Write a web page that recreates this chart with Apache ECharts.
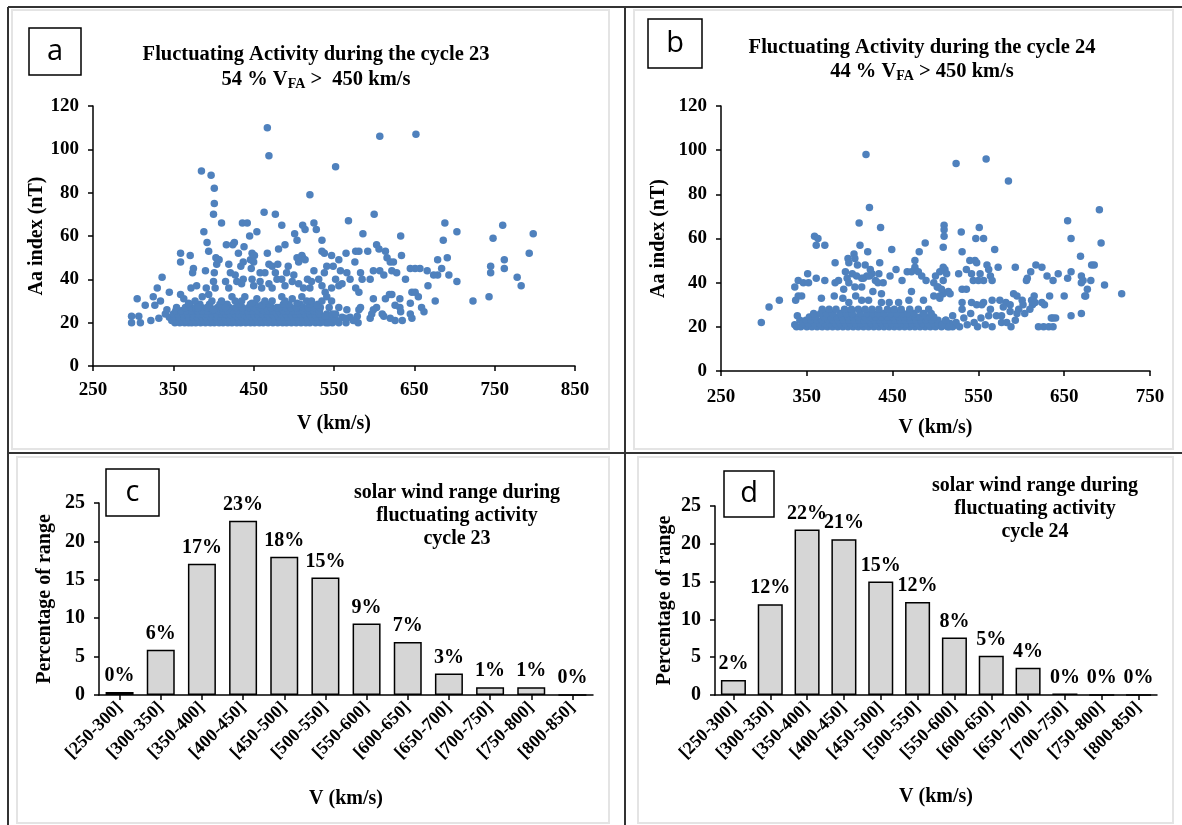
<!DOCTYPE html>
<html><head><meta charset="utf-8">
<script src="https://cdn.jsdelivr.net/npm/echarts@6/dist/echarts.min.js"></script>
<style>html,body{margin:0;padding:0;background:#fff}#c{width:1182px;height:825px}</style>
</head><body><div id="c"></div><script>
// ---------- DATA ----------
// Panel a: cycle 23 scatter [V km/s, Aa nT]
const scatterA_high = [[467,110],[469,97],[552,92],[385,90],[397,88],[401,82],[401,75],[400,70],[607,106],[652,107],[520,79],[463,71],[477,70],[410,66],[436,66],[442,66],[485,65],[511,65],[514,63],[525,66],[528,63],[388,62],[454,62],[445,60],[501,61],[392,57],[416,56],[424,56],[426,57],[438,55],[394,53],[504,58],[535,58],[359,52],[371,51],[359,48],[403,50],[406,49],[431,52],[448,52],[451,51],[467,52],[481,54],[489,56],[510,51],[514,49],[538,52],[547,51],[556,49]];
const scatterA_right = [[600,70],[568,67],[586,61],[633,60],[688,66],[703,62],[686,58],[760,65],[748,59],[798,61],[793,52],[603,56],[606,54],[634,51],[679,49],[691,50],[762,49],[762,45],[745,46],[745,43],[778,41],[783,37],[723,30],[743,32],[703,39],[693,42],[667,37],[676,30],[684,45],[679,42],[674,42],[657,45],[666,44],[651,45],[645,45],[639,40],[607,44],[612,42],[599,44],[595,40],[622,44],[628,43],[616,50],[620,48],[614,53],[624,48],[592,53],[581,53],[577,53],[565,52],[576,48],[566,43],[570,40],[560,38],[583,43],[585,40],[577,36],[581,34],[599,31],[614,31],[622,33],[632,31],[647,34],[651,34],[655,32],[645,29],[632,27],[619,33],[603,27],[599,26],[583,27],[566,26],[659,27],[662,25],[645,24],[647,22],[633,25],[626,28],[610,24],[595,22],[597,24],[581,26],[579,23],[574,21],[564,22],[620,22],[626,21],[635,21],[612,23]];
const scatterA_mid = [[336,41],[330,36],[305,31],[315,28],[325,32],[327,28],[334,30],[345,34],[298,23],[307,23],[298,20],[309,20],[322,21],[332,22],[342,26],[354,27],[359,33],[363,31],[375,45],[374,43],[390,44],[372,36],[379,37],[391,36],[400,39],[401,43],[404,47],[407,49],[419,47],[421,43],[434,46],[437,48],[446,49],[450,48],[447,45],[458,43],[464,43],[469,47],[473,46],[480,47],[493,46],[491,43],[500,42],[506,48],[504,50],[511,50],[517,40],[525,44],[531,40],[535,53],[538,43],[541,46],[549,46],[558,44],[552,40],[556,37],[547,36],[535,37],[539,34],[522,39],[520,36],[506,38],[512,36],[498,39],[489,37],[485,40],[477,43],[479,40],[469,38],[473,36],[458,39],[460,36],[448,40],[450,37],[437,40],[435,38],[427,42],[429,39],[415,39],[419,36],[402,36],[394,33],[398,30],[386,32],[377,30],[381,27],[369,29],[392,27],[400,26],[410,30],[415,27],[423,32],[427,30],[435,30],[439,32],[448,29],[454,31],[460,28],[464,30],[473,30],[479,27],[485,32],[489,30],[498,31],[504,29],[510,32],[516,30],[522,30],[529,28],[535,30],[541,32],[547,30],[556,27],[552,24],[539,23],[543,20]];
const scatterA_low = [
[352,20],[358,20],[364,20],[369,20],[373,20],[378,20],[384,20],[390,20],[396,20],[401,20],[407,20],[412,20],[418,20],[423,20],[429,20],[434,20],[440,20],[446,20],[451,20],[457,20],[462,20],[468,20],[474,20],[480,20],[486,20],[491,20],[497,20],[503,20],[509,20],[515,20],[520,20],[527,20],[533,20],[540,20],[548,20],[556,20],[565,20],[580,20],
[348,21],[355,21],[361,21],[366,21],[372,21],[377,21],[382,21],[388,21],[393,21],[399,21],[405,21],[410,21],[416,21],[421,21],[426,21],[432,21],[438,21],[443,21],[449,21],[455,21],[460,21],[466,21],[471,21],[477,21],[483,21],[489,21],[494,21],[500,21],[506,21],[512,21],[518,21],[524,21],[530,21],[537,21],[545,21],[553,21],
[345,22.5],[351,22.5],[357,22.5],[363,22.5],[369,22.5],[375,22.5],[380,22.5],[386,22.5],[391,22.5],[397,22.5],[403,22.5],[409,22.5],[414,22.5],[420,22.5],[425,22.5],[431,22.5],[436,22.5],[442,22.5],[448,22.5],[453,22.5],[459,22.5],[465,22.5],[470,22.5],[476,22.5],[482,22.5],[488,22.5],[493,22.5],[499,22.5],[505,22.5],[511,22.5],[517,22.5],[523,22.5],[529,22.5],[535,22.5],[544,22.5],[550,22.5],[560,22.5],[570,22.5],
[340,24],[350,24],[356,24],[362,24],[368,24],[374,24],[381,24],[387,24],[392,24],[398,24],[404,24],[410,24],[415,24],[421,24],[427,24],[432,24],[438,24],[444,24],[450,24],[455,24],[461,24],[467,24],[473,24],[479,24],[484,24],[490,24],[496,24],[502,24],[508,24],[514,24],[520,24],[526,24],[532,24],[541,24],[548,24],
[353,25.5],[360,25.5],[367,25.5],[373,25.5],[380,25.5],[386,25.5],[393,25.5],[399,25.5],[406,25.5],[412,25.5],[418,25.5],[424,25.5],[430,25.5],[437,25.5],[443,25.5],[449,25.5],[455,25.5],[462,25.5],[468,25.5],[474,25.5],[481,25.5],[487,25.5],[493,25.5],[499,25.5],[505,25.5],[511,25.5],[518,25.5],[525,25.5],[532,25.5],
[365,27],[372,27],[378,27],[385,27],[396,27],[405,27],[411,27],[420,27],[428,27],[436,27],[444,27],[451,27],[458,27],[466,27],[472,27],[482,27],[490,27],[496,27],[503,27],[512,27],[518,27],[525,27],[533,27],[544,27],
[370,28.5],[383,28.5],[395,28.5],[408,28.5],[417,28.5],[432,28.5],[446,28.5],[452,28.5],[462,28.5],[470,28.5],[487,28.5],[494,28.5],[508,28.5],[520,28.5],[530,28.5]];

// Panel b: cycle 24 scatter [V km/s, Aa nT]
const scatterB_high = [[419,98],[524,94],[559,96],[585,86],[423,74],[691,73],[411,67],[436,65],[654,68],[510,66],[510,64],[510,61],[530,63],[551,65],[547,60],[556,60],[658,60],[693,58],[359,61],[363,60],[361,57],[371,57],[412,57],[421,54],[449,55],[488,58],[481,54],[509,56],[569,55],[531,54],[669,52],[682,48],[685,48]];
const scatterB_mid = [[398,51],[405,53],[406,51],[399,49],[409,48],[383,49],[418,48],[424,46],[435,49],[395,45],[403,44],[408,43],[420,43],[416,42],[426,44],[434,44],[447,43],[454,46],[461,41],[467,45],[472,45],[476,50],[476,47],[480,45],[484,43],[489,41],[500,43],[498,40],[505,45],[503,38],[509,47],[509,35],[351,44],[361,42],[371,41],[383,40],[387,41],[340,41],[336,38],[346,40],[352,40],[397,42],[399,40],[406,38],[414,38],[414,42],[423,43],[430,41],[433,40],[439,40],[393,37],[382,34],[340,34],[344,34],[337,32],[367,33],[392,33],[399,31],[407,34],[414,32],[427,36],[422,32],[437,35],[437,31],[446,31],[457,31],[472,36],[469,32],[486,32],[498,34],[502,38],[505,33],[507,37]];
const scatterB_right = [[540,50],[546,50],[548,49],[536,46],[560,48],[562,46],[573,47],[593,47],[617,48],[624,47],[611,45],[643,44],[630,43],[658,45],[670,43],[672,41],[681,41],[697,39],[717,35],[511,46],[513,44],[527,44],[542,44],[552,44],[556,41],[564,43],[566,41],[544,41],[550,41],[509,41],[606,41],[607,42],[637,41],[654,42],[670,40],[677,37],[675,34],[650,34],[633,34],[615,34],[612,32],[601,32],[602,30],[591,35],[595,34],[582,31],[587,30],[566,32],[575,32],[556,31],[564,28],[542,31],[548,30],[554,30],[531,31],[531,28],[531,37],[536,37],[515,36],[517,35],[505,34],[613,30],[616,31],[624,31],[627,30],[610,28],[604,26],[597,28],[595,26],[587,27],[579,29],[577,25],[571,25],[577,22],[583,22],[588,20],[593,23],[620,20],[626,20],[632,20],[637,20],[635,24],[637,24],[640,24],[658,25],[670,26],[674,34],[508,21],[512,23],[516,20],[520,25],[524,22],[528,20],[533,24],[537,21],[541,26],[545,22],[549,20],[553,24],[558,21],[562,25],[566,20]];
const scatterB_low = [[297,22],[306,29],[318,32],[336,21],[339,25],[342,23],[338,20],
[343,20],[350,20],[356,20],[362,20],[368,20],[374,20],[380,20],[386,20],[392,20],[398,20],[404,20],[410,20],[416,20],[422,20],[428,20],[434,20],[440,20],[446,20],[452,20],[458,20],[464,20],[470,20],[476,20],[482,20],[488,20],[494,20],[500,20],[507,20],[514,20],[520,20],
[346,21.5],[352,21.5],[359,21.5],[365,21.5],[371,21.5],[377,21.5],[383,21.5],[389,21.5],[395,21.5],[401,21.5],[407,21.5],[413,21.5],[419,21.5],[425,21.5],[431,21.5],[437,21.5],[443,21.5],[449,21.5],[455,21.5],[461,21.5],[467,21.5],[473,21.5],[479,21.5],[485,21.5],[491,21.5],[497,21.5],[503,21.5],[510,21.5],[517,21.5],
[349,23],[355,23],[362,23],[368,23],[375,23],[381,23],[387,23],[393,23],[399,23],[405,23],[411,23],[417,23],[423,23],[429,23],[435,23],[441,23],[447,23],[453,23],[459,23],[465,23],[471,23],[477,23],[483,23],[489,23],[496,23],[503,23],[512,23],
[353,24.5],[360,24.5],[370,24.5],[378,24.5],[385,24.5],[391,24.5],[398,24.5],[404,24.5],[410,24.5],[418,24.5],[424,24.5],[430,24.5],[437,24.5],[444,24.5],[450,24.5],[457,24.5],[463,24.5],[470,24.5],[476,24.5],[482,24.5],[490,24.5],[498,24.5],
[358,26],[366,26],[373,26],[380,26],[389,26],[396,26],[403,26],[412,26],[420,26],[427,26],[433,26],[440,26],[448,26],[455,26],[462,26],[468,26],[475,26],[486,26],[495,26],
[368,28],[376,28],[384,28],[394,28],[402,28],[410,28],[418,28],[426,28],[434,28],[444,28],[452,28],[460,28],[470,28],[480,28],[492,28]];

// Panels c, d: histogram of solar wind speed ranges
const ranges = ['[250-300]','[300-350]','[350-400]','[400-450]','[450-500]','[500-550]','[550-600]','[600-650]','[650-700]','[700-750]','[750-800]','[800-850]'];
const pct23 = [0.4,5.9,17.1,22.7,18.0,15.3,9.3,6.9,2.8,1.0,1.0,0];
const pct23Labels = ['0%','6%','17%','23%','18%','15%','9%','7%','3%','1%','1%','0%'];
const pct24 = [2.0,12.0,21.9,20.6,15.0,12.3,7.6,5.2,3.6,0.2,0,0];
const pct24Labels = ['2%','12%','22%','21%','15%','12%','8%','5%','4%','0%','0%','0%'];

// ---------- CHART ----------
const SERIF = '"Liberation Serif","Times New Roman",serif';
const BLUE = '#4F81BD';
const chart = echarts.init(document.getElementById('c'), null, {renderer:'canvas'});

function axisBase(){
  return {
    axisLine:{show:true,onZero:false,lineStyle:{color:'#000',width:1.5}},
    axisTick:{show:true,inside:false,length:5,lineStyle:{color:'#000',width:1.5}},
    splitLine:{show:false},
    nameTextStyle:{fontFamily:SERIF,fontWeight:'bold',fontSize:20,color:'#000'},
    axisLabel:{fontFamily:SERIF,fontWeight:'bold',fontSize:19,color:'#000'}
  };
}
function valX(grid,min,max,interval,gap,margin){
  const a = axisBase();
  return Object.assign(a,{type:'value',gridIndex:grid,min,max,interval,name:'V (km/s)',nameLocation:'middle',nameGap:gap,
    axisLabel:Object.assign(a.axisLabel,{margin})});
}
function valY(grid,min,max,interval,name,gap,fs){
  const a = axisBase();
  a.axisLabel.fontSize = fs; a.axisLabel.margin = 14;
  return Object.assign(a,{type:'value',gridIndex:grid,min,max,interval,name,nameLocation:'middle',nameGap:gap,nameRotate:90});
}
function catX(grid,gap){
  const a = axisBase();
  return Object.assign(a,{type:'category',gridIndex:grid,data:ranges,name:'V (km/s)',nameLocation:'middle',nameGap:gap,
    axisTick:Object.assign(a.axisTick,{alignWithLabel:true}),
    axisLabel:Object.assign(a.axisLabel,{rotate:45,interval:0,fontSize:18,margin:10})});
}
function scat(i,data){
  return {type:'scatter',xAxisIndex:i,yAxisIndex:i,data,symbolSize:7.5,itemStyle:{color:BLUE,opacity:1},silent:true};
}
function bars(i,data,labels){
  return {type:'bar',xAxisIndex:i,yAxisIndex:i,data,barCategoryGap:'32%',silent:true,
    itemStyle:{color:'#d6d6d6',borderColor:'#000',borderWidth:1.5},
    label:{show:true,position:'top',distance:6,formatter:p=>labels[p.dataIndex],
      fontFamily:SERIF,fontWeight:'bold',fontSize:20,color:'#000'}};
}

const g = [];
// frame lines
[[8,7,1182,7],[8,7,8,825],[625,7,625,825],[8,453,1182,453]].forEach(l=>g.push({type:'line',shape:{x1:l[0],y1:l[1],x2:l[2],y2:l[3]},style:{stroke:'#333',lineWidth:2},z:10}));
// light panel borders
[[12,10,597,439],[634,10,539,439],[17,457,592,366],[638,457,535,366]].forEach(r=>g.push({type:'rect',shape:{x:r[0],y:r[1],width:r[2],height:r[3]},style:{fill:'none',stroke:'#e4e4e4',lineWidth:2},z:1}));
// letter boxes
[['a',29,28,52,47],['b',648,19,54,49],['c',106,469,53,47],['d',724,471,50,46]].forEach(b=>{
  g.push({type:'rect',shape:{x:b[1],y:b[2],width:b[3],height:b[4]},style:{fill:'#fff',stroke:'#000',lineWidth:1.5},z:5});
  g.push({type:'text',x:b[1]+b[3]/2,y:b[2]+b[4]/2,style:{text:b[0],font:'29px "Open Sans", sans-serif',fill:'#000',align:'center',verticalAlign:'middle'},z:6});
});
// titles
function tText(x,y,text,rich){
  g.push({type:'text',x,y,style:{text,fontFamily:SERIF,fontWeight:'bold',fontSize:20.5,fill:'#000',align:'center',verticalAlign:'middle',rich},z:6});
}
const subRich = {n:{fontFamily:SERIF,fontWeight:'bold',fontSize:20.5,fill:'#000'},s:{fontFamily:SERIF,fontWeight:'bold',fontSize:14,fill:'#000',padding:[9,0,0,0]}};
tText(316,55,'Fluctuating Activity during the cycle 23');
tText(316,80,'{n|54 % V}{s|FA}{n| >  450 km/s}',subRich);
tText(922,48,'Fluctuating Activity during the cycle 24');
tText(922,72,'{n|44 % V}{s|FA}{n| > 450 km/s}',subRich);
// annotation texts
function note(x,y,lines){
  g.push({type:'text',x,y,style:{text:lines.join('\n'),fontFamily:SERIF,fontWeight:'bold',fontSize:20,lineHeight:23,fill:'#000',align:'center',verticalAlign:'middle'},z:6});
}
note(457,516,['solar wind range during','fluctuating activity','cycle 23']);
note(1035,509,['solar wind range during','fluctuating activity','cycle 24']);

const option = {
  animation:false,
  backgroundColor:'#fff',
  grid:[
    {left:93,top:106,width:482,height:260},
    {left:721,top:106,width:429,height:265},
    {left:99,top:503,width:494,height:192},
    {left:715,top:506,width:442,height:189}
  ],
  xAxis:[ valX(0,250,850,100,48,15), valX(1,250,750,100,47,17), catX(2,94), catX(3,92) ],
  yAxis:[
    valY(0,0,120,20,'Aa index (nT)',45,19),
    valY(1,0,120,20,'Aa index (nT)',52,19),
    valY(2,0,25,5,'Percentage of range',44,20),
    valY(3,0,25,5,'Percentage of range',40,20)
  ],
  series:[
    scat(0,scatterA_low), scat(0,scatterA_mid), scat(0,scatterA_high), scat(0,scatterA_right),
    scat(1,scatterB_low), scat(1,scatterB_mid), scat(1,scatterB_high), scat(1,scatterB_right),
    bars(2,pct23,pct23Labels), bars(3,pct24,pct24Labels)
  ],
  graphic:{elements:g}
};
chart.setOption(option);
</script></body></html>
